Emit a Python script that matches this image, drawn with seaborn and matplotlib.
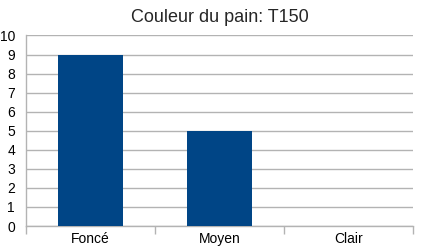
import matplotlib
matplotlib.use("Agg")
import matplotlib.pyplot as plt
import seaborn as sns
import pandas as pd
from matplotlib.ticker import FixedLocator

categories = ["Foncé", "Moyen", "Clair"]
values = [9, 5, 0]
yticks = list(range(0, 11))
title = "Couleur du pain: T150"

sns.set_style("white")
plt.rcParams['font.family'] = ['Liberation Sans', 'DejaVu Sans']

W, H = 443, 249
fig = plt.figure(figsize=(W / 100, H / 100), dpi=100)
ax = fig.add_axes([26 / W, (H - 226) / H, (413 - 26) / W, (226 - 35.5) / H])

df = pd.DataFrame({"cat": categories, "val": values})
sns.barplot(data=df, x="cat", y="val", color="#004586", width=0.5, saturation=1,
            linewidth=0, ax=ax, zorder=3)

ax.set_xlim(-0.5, 2.5)
ax.set_ylim(0, 10)
ax.set_yticks(yticks)
ax.set_yticklabels([str(t) for t in yticks])
ax.set_xlabel("")
ax.set_ylabel("")
ax.grid(axis="y", color="#b3b3b3", linewidth=1, zorder=0)
ax.set_axisbelow(True)

for s in ["top", "right"]:
    ax.spines[s].set_visible(False)
for s in ["left", "bottom"]:
    ax.spines[s].set_color("#b3b3b3")
    ax.spines[s].set_linewidth(1)

ax.tick_params(axis="y", length=6, width=1, color="#b3b3b3", labelsize=10, pad=2, labelcolor="#000000")
ax.tick_params(axis="x", which="major", length=0, labelsize=10, pad=4, labelcolor="#000000")
ax.xaxis.set_minor_locator(FixedLocator([-0.5, 0.5, 1.5, 2.5]))
ax.tick_params(axis="x", which="minor", length=6, width=1, color="#b3b3b3", bottom=True)

fig.text((26 + 413) / 2 / W, 1 - 18 / H, title, ha="center", va="center", fontsize=13)

fig.savefig("out.png", dpi=100, facecolor="white")
